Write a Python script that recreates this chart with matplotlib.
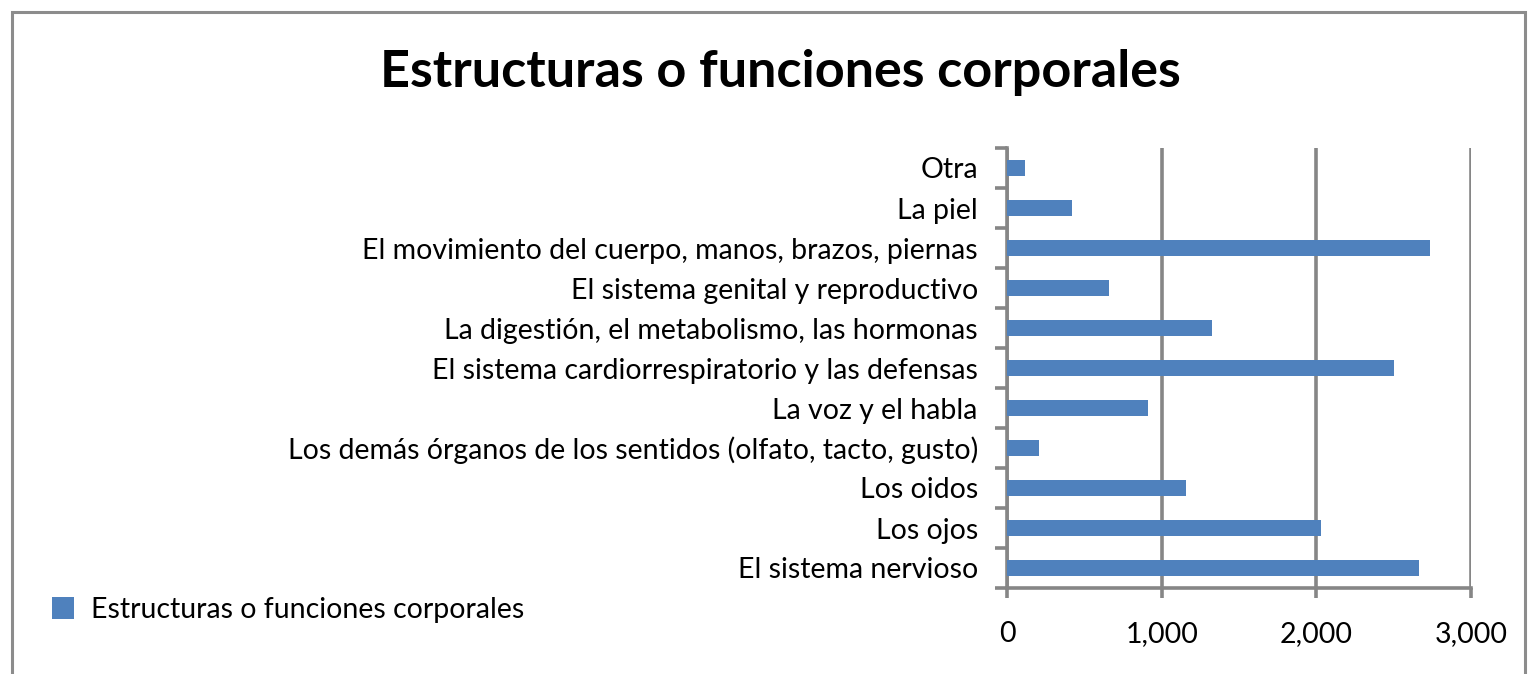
import matplotlib
matplotlib.use("Agg")
import matplotlib.pyplot as plt
from matplotlib.patches import Rectangle
from matplotlib.ticker import FuncFormatter, MultipleLocator

# --- Data (bottom to top) ---
categories = [
    "El sistema nervioso",
    "Los ojos",
    "Los oidos",
    "Los demás órganos de los sentidos (olfato, tacto, gusto)",
    "La voz y el habla",
    "El sistema cardiorrespiratorio y las defensas",
    "La digestión, el metabolismo, las hormonas",
    "El sistema genital y reproductivo",
    "El movimiento del cuerpo, manos, brazos, piernas",
    "La piel",
    "Otra",
]
values = [2665, 2029, 1158, 207, 910, 2499, 1324, 660, 2736, 418, 116]
series_name = "Estructuras o funciones corporales"
title = "Estructuras o funciones corporales"

BAR_COLOR = "#4F81BD"
GRID_COLOR = "#868686"
LABEL_SIZE = 20.5

plt.rcParams["font.family"] = ["Lato", "DejaVu Sans"]

fig = plt.figure(figsize=(15.29, 6.74), dpi=100)
ax = fig.add_axes([1007 / 1529, 1 - 588 / 674, 464 / 1529, 440 / 674])

pos = list(range(len(categories)))
bars = ax.barh(pos, values, height=0.38, color=BAR_COLOR, label=series_name, zorder=3)

ax.set_xlim(0, 3000)
ax.set_ylim(-0.5, len(categories) - 0.5)

# vertical gridlines + axes
ax.xaxis.set_major_locator(MultipleLocator(1000))
ax.xaxis.set_major_formatter(FuncFormatter(lambda v, p: f"{int(v):,}"))
ax.grid(axis="x", color=GRID_COLOR, linewidth=2.6, zorder=1)
for s in ["top", "right"]:
    ax.spines[s].set_visible(False)
for s in ["left", "bottom"]:
    ax.spines[s].set_color(GRID_COLOR)
    ax.spines[s].set_linewidth(2.6)

ax.tick_params(axis="x", length=7, width=2.6, color=GRID_COLOR, pad=17,
               labelsize=LABEL_SIZE, labelcolor="black")

# labels at bar centres, tick marks between categories
ax.set_yticks(pos)
ax.set_yticklabels(categories)
ax.tick_params(axis="y", which="major", length=0, pad=21, labelsize=LABEL_SIZE)
ax.set_yticks([p - 0.5 for p in pos] + [len(categories) - 0.5], minor=True)
ax.tick_params(axis="y", which="minor", length=9, width=2.6, color=GRID_COLOR)

fig.text(780 / 1529, 1 - 73 / 674, title, ha="center", va="center",
         fontsize=37.5, fontweight="bold")

fig.legend(handles=[bars], labels=[series_name], loc="center left",
           bbox_to_anchor=(26 / 1529, 1 - 610 / 674), frameon=False,
           fontsize=LABEL_SIZE, handlelength=0.8, handleheight=0.8,
           handletextpad=0.6)

# outer chart border
fig.patches.append(Rectangle((12 / 1529, -0.05), 1513 / 1529, 1.05 - 12 / 674,
                             transform=fig.transFigure, fill=False,
                             edgecolor="#8C8C8C", linewidth=2.2))

fig.savefig("out.png", dpi=100)
